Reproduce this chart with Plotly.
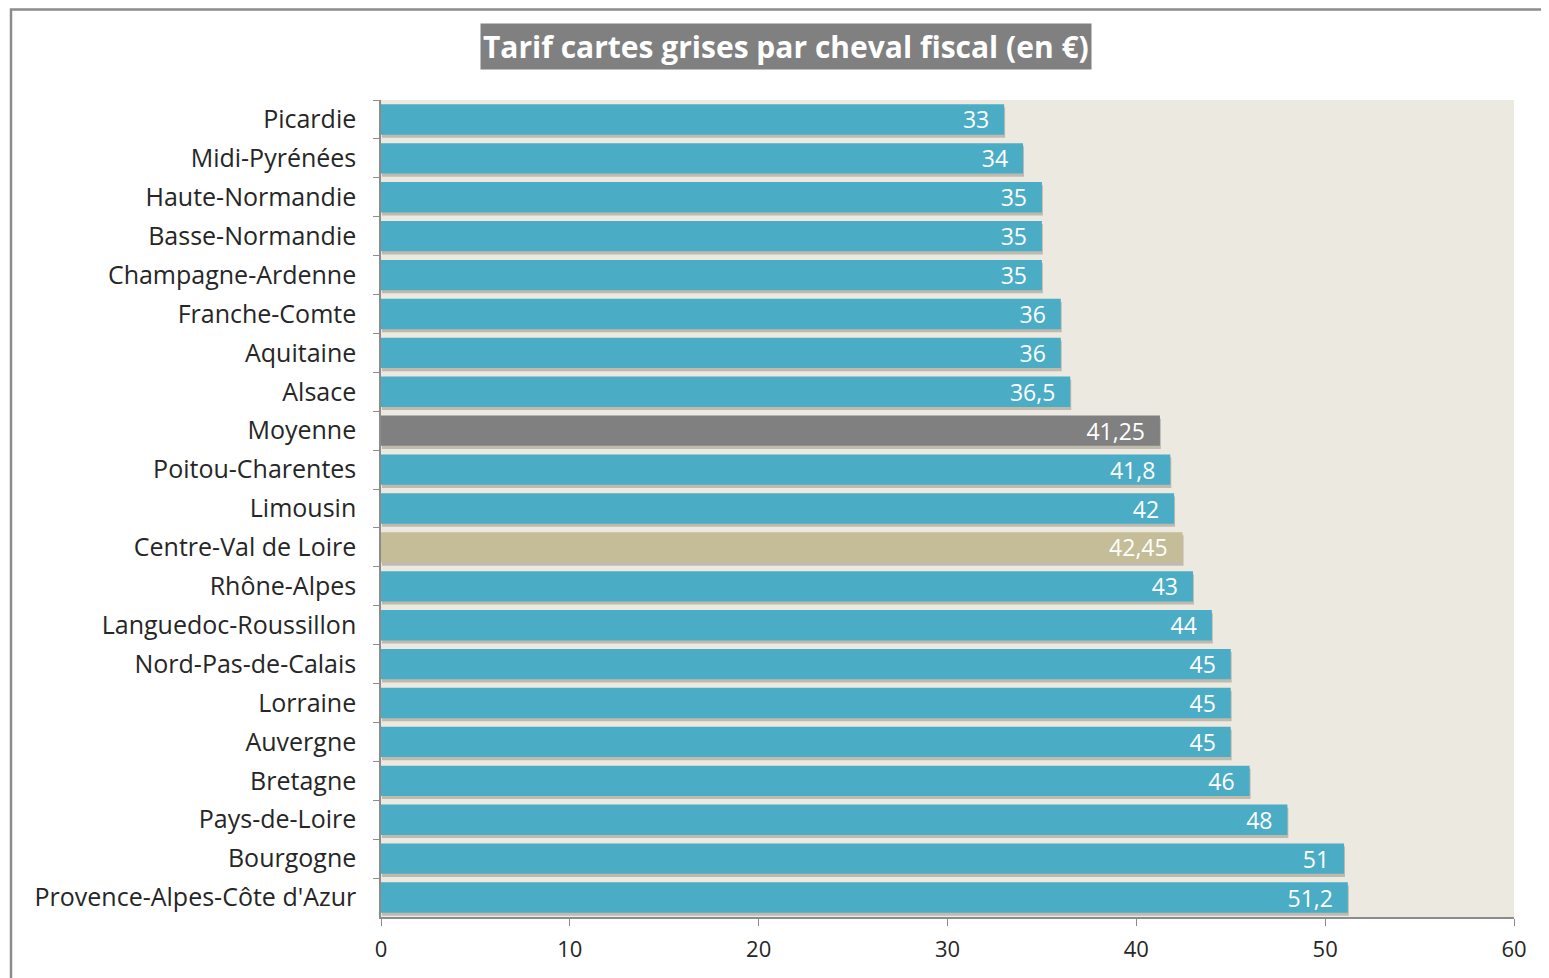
import plotly.graph_objects as go

regions = ["Picardie", "Midi-Pyrénées", "Haute-Normandie", "Basse-Normandie",
           "Champagne-Ardenne", "Franche-Comte", "Aquitaine", "Alsace", "Moyenne",
           "Poitou-Charentes", "Limousin", "Centre-Val de Loire", "Rhône-Alpes",
           "Languedoc-Roussillon", "Nord-Pas-de-Calais", "Lorraine", "Auvergne",
           "Bretagne", "Pays-de-Loire", "Bourgogne", "Provence-Alpes-Côte d'Azur"]
tarifs = [33, 34, 35, 35, 35, 36, 36, 36.5, 41.25, 41.8, 42, 42.45, 43, 44,
          45, 45, 45, 46, 48, 51, 51.2]
labels = [(str(v).replace(".", ",") if v != int(v) else str(int(v))) + "\u00a0\u00a0"
          for v in tarifs]

BLUE = "#4BACC6"
GRAY = "#808080"
BEIGE = "#C4BD97"
colors = [GRAY if r == "Moyenne" else BEIGE if r == "Centre-Val de Loire" else BLUE
          for r in regions]

W, H = 1549, 978
OFF = 8  # page offset of the figure in the browser
ML, MR, MT, MB = 381 - OFF, W - 1514 + OFF, 100 - OFF, H - 917 + OFF
pw, ph = W - ML - MR, H - MT - MB
BW = 0.78

fig = go.Figure()
# soft drop shadow behind the bars
fig.add_trace(go.Bar(
    x=tarifs, y=regions, orientation="h",
    marker=dict(color="rgba(110,100,80,0.35)", line=dict(width=0)),
    width=BW, offset=-BW / 2 + 0.08, base=0.05,
    hoverinfo="skip",
))
fig.add_trace(go.Bar(
    x=tarifs, y=regions, orientation="h",
    marker=dict(color=colors, line=dict(width=0)),
    width=BW, offset=-BW / 2,
    text=labels, textposition="inside", insidetextanchor="end",
    textangle=0, constraintext="none",
    textfont=dict(family="Open Sans", size=23, color="#FFFFFF"),
    cliponaxis=False,
    hoverinfo="x+y",
))

fig.update_layout(
    width=W, height=H,
    margin=dict(l=ML, r=MR, t=MT, b=MB),
    paper_bgcolor="#FFFFFF",
    plot_bgcolor="#ECE9E0",
    showlegend=False,
    barmode="overlay",
    font=dict(family="Open Sans", color="#262626"),
)
fig.update_yaxes(
    autorange="reversed", type="category",
    showline=True, linecolor="#8C8C8C", linewidth=1.5,
    ticks="outside", ticklen=6, tickcolor="#8C8C8C", tickson="boundaries",
    tickfont=dict(family="Open Sans", size=25, color="#262626"),
    ticklabelstandoff=18, showgrid=False,
)
fig.update_xaxes(
    range=[0, 60], dtick=10, tick0=0,
    showline=True, linecolor="#8C8C8C", linewidth=1.5,
    ticks="outside", ticklen=7, tickcolor="#8C8C8C",
    tickfont=dict(family="Open Sans", size=22, color="#262626"),
    ticklabelstandoff=5, showgrid=False, zeroline=False,
)

# Title box
fig.add_annotation(
    xref="paper", yref="paper",
    x=(786 - OFF - ML) / pw, y=(H - (46 - OFF) - MB) / ph,
    text="<b>Tarif cartes grises par cheval fiscal (en €)</b>",
    showarrow=False, xanchor="center", yanchor="middle",
    font=dict(family="Open Sans", size=30, color="#FFFFFF"),
    bgcolor="#808080", borderpad=2,
)

# Outer chart frame
fig.add_shape(
    type="rect", xref="paper", yref="paper",
    x0=(11 - OFF - ML) / pw, x1=(W + 20 - ML) / pw,
    y0=(H - 1000 - MB) / ph, y1=(H - 1.5 - MB) / ph,
    line=dict(color="#8C8C8C", width=2.5), fillcolor="rgba(0,0,0,0)",
    layer="below",
)

fig.write_html("out.html")
